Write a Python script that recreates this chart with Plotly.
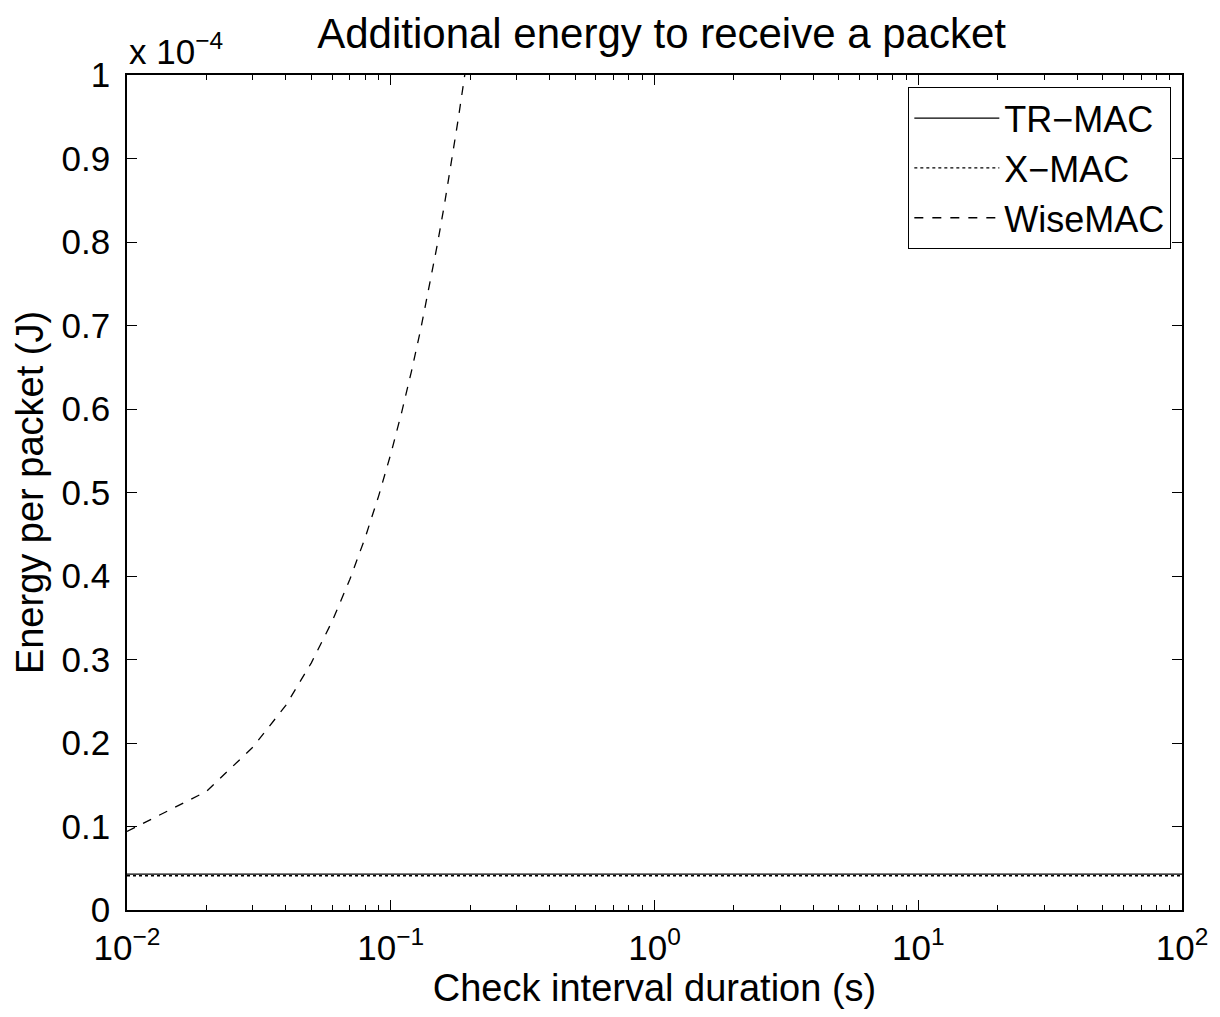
import plotly.graph_objects as go

# Data (energy values in units of 1e-4 J)
check_interval = [0.01, 0.02, 0.03, 0.04, 0.05, 0.06, 0.07, 0.08, 0.09, 0.10,
                  0.11, 0.12, 0.13, 0.14, 0.15, 0.16, 0.17, 0.18, 0.19, 0.20]
wisemac = [0.094, 0.142, 0.195, 0.245, 0.296, 0.346, 0.396, 0.446, 0.496, 0.546,
           0.596, 0.646, 0.696, 0.746, 0.796, 0.846, 0.896, 0.946, 0.996, 1.046]
flat_x = [0.01, 0.1, 1, 10, 100]
trmac = [0.043, 0.043, 0.043, 0.043, 0.043]
xmac = [0.041, 0.041, 0.041, 0.041, 0.041]

y_ticks = [0, 0.1, 0.2, 0.3, 0.4, 0.5, 0.6, 0.7, 0.8, 0.9, 1]
y_ticktext = ["0", "0.1", "0.2", "0.3", "0.4", "0.5", "0.6", "0.7", "0.8", "0.9", "1"]
x_ticks = [0.01, 0.1, 1, 10, 100]
x_ticktext = ["10<sup>−2</sup>", "10<sup>−1</sup>", "10<sup>0</sup>", "10<sup>1</sup>", "10<sup>2</sup>"]
x_minor = [m * d for d in [0.01, 0.1, 1, 10] for m in [2, 3, 4, 5, 6, 7, 8, 9]]

FONT = "Liberation Sans, Arial, Helvetica, sans-serif"

fig = go.Figure()
fig.add_trace(go.Scatter(x=flat_x, y=trmac, mode="lines", name="TR−MAC",
                         line=dict(color="black", width=1.3)))
fig.add_trace(go.Scatter(x=flat_x, y=xmac, mode="lines", name="X−MAC",
                         line=dict(color="black", width=1.3, dash="dot")))
fig.add_trace(go.Scatter(x=check_interval, y=wisemac, mode="lines", name="WiseMAC",
                         line=dict(color="black", width=1.3, dash="dash")))

axis_common = dict(showline=True, linecolor="black", linewidth=1.5, mirror="allticks",
                   ticks="inside", tickcolor="black", showgrid=False, zeroline=False,
                   tickfont=dict(size=35, color="black", family=FONT))

fig.update_layout(
    width=1212, height=1001,
    paper_bgcolor="white", plot_bgcolor="white",
    margin=dict(l=119, r=32, t=67, b=97),
    font=dict(family=FONT, color="black"),
    title=dict(text="Additional energy to receive a packet", x=0.5393, xanchor="center",
               y=0.975, yanchor="middle", font=dict(size=42, color="black", family=FONT)),
    xaxis=dict(type="log", range=[-2, 2], tickvals=x_ticks, ticktext=x_ticktext, ticklen=10,
               ticklabelstandoff=6, ticklabeloverflow="allow",
               minor=dict(tickmode="array", tickvals=x_minor, ticks="inside", ticklen=5,
                          tickcolor="black", showgrid=False),
               title=dict(text="Check interval duration (s)", font=dict(size=38, color="black"),
                          standoff=4),
               **axis_common),
    yaxis=dict(range=[0, 1], tickvals=y_ticks, ticktext=y_ticktext, ticklen=10,
               ticklabelstandoff=8,
               title=dict(text="Energy per packet (J)", font=dict(size=38, color="black"),
                          standoff=6),
               **axis_common),
    legend=dict(x=0.9896, y=0.9857, xanchor="right", yanchor="top",
                bgcolor="white", bordercolor="black", borderwidth=1.3,
                font=dict(size=36, color="black", family=FONT),
                tracegroupgap=0, itemwidth=85),
    showlegend=True,
)

fig.add_annotation(text="x 10<sup>−4</sup>", xref="paper", yref="paper", x=0.0, y=1.0,
                   xanchor="left", yanchor="bottom", showarrow=False, yshift=2,
                   font=dict(size=35, color="black", family=FONT))

fig.write_html("out.html")
